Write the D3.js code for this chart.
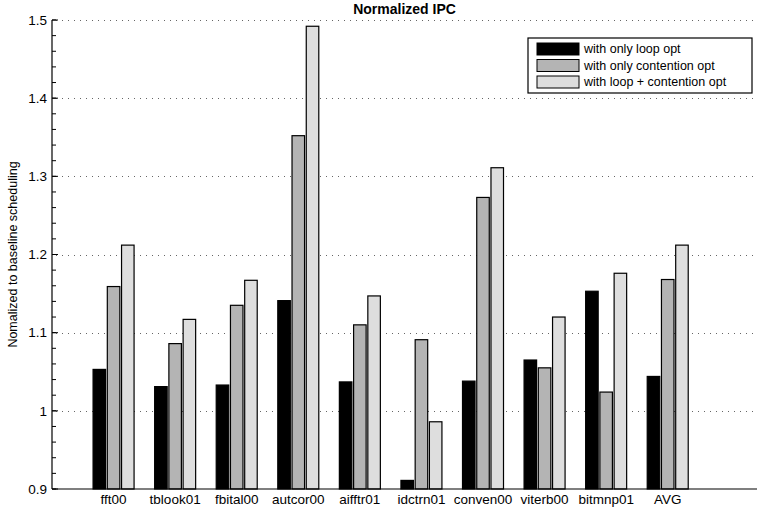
<!DOCTYPE html>
<html>
<head>
<meta charset="utf-8">
<script src="https://cdn.jsdelivr.net/npm/d3@7"></script>
<style>
  body { margin: 0; background: #fff; }
  svg { font-family: "Liberation Sans", Arial, Helvetica, sans-serif; }
</style>
</head>
<body>
<div id="chart"></div>
<script>
const benchmarks = ["fft00", "tblook01", "fbital00", "autcor00", "aifftr01",
  "idctrn01", "conven00", "viterb00", "bitmnp01", "AVG"];
const series_names = ["with only loop opt", "with only contention opt", "with loop + contention opt"];
const loop_opt = [1.053, 1.031, 1.033, 1.141, 1.037, 0.911, 1.038, 1.065, 1.153, 1.044];
const contention_opt = [1.159, 1.086, 1.135, 1.352, 1.110, 1.091, 1.273, 1.055, 1.024, 1.168];
const both_opt = [1.212, 1.117, 1.167, 1.492, 1.147, 0.986, 1.311, 1.120, 1.176, 1.212];
const y_ticks = [0.9, 1, 1.1, 1.2, 1.3, 1.4, 1.5];
const y_grid = [1, 1.1, 1.2, 1.3, 1.4, 1.5];
const y_minor = d3.range(0.9, 1.5001, 0.02);

const width = 763, height = 510;
const margin = {left: 52, top: 20, right: 6, bottom: 21};
const fills = ["#000000", "#b4b4b4", "#dedede"];

const svg = d3.select("#chart").append("svg")
  .attr("width", width)
  .attr("height", height);

const x = d3.scaleLinear()
  .domain([0, 11.45])
  .range([margin.left, width - margin.right]);

const y = d3.scaleLinear()
  .domain([0.9, 1.5])
  .range([height - margin.bottom, margin.top]);

// offsets of the three bars inside a group
const sub = d3.scaleBand()
  .domain(d3.range(3))
  .range([-20.5, 20.5])
  .paddingInner(0.12);

const rows = benchmarks.map((b, i) => ({
  name: b,
  pos: i + 1,
  vals: [loop_opt[i], contention_opt[i], both_opt[i]]
}));

// grid
svg.append("g")
  .selectAll("line")
  .data(y_grid)
  .enter()
  .append("line")
  .attr("x1", margin.left + 4)
  .attr("x2", width - margin.right)
  .attr("y1", d => Math.round(y(d)) + 0.5)
  .attr("y2", d => Math.round(y(d)) + 0.5)
  .attr("stroke", "#666")
  .attr("stroke-width", 1)
  .attr("stroke-dasharray", "1 5");

// bars
const groups = svg.append("g")
  .selectAll("g")
  .data(rows)
  .enter()
  .append("g")
  .attr("transform", d => `translate(${x(d.pos)},0)`);

groups.selectAll("rect")
  .data(d => d.vals)
  .enter()
  .append("rect")
  .attr("x", (d, j) => sub(j))
  .attr("width", sub.bandwidth())
  .attr("y", d => y(d))
  .attr("height", d => y(0.9) - y(d))
  .attr("fill", (d, j) => fills[j])
  .attr("stroke", "#000")
  .attr("stroke-width", 1.2);

// axes
const yAxis = svg.append("g")
  .attr("transform", `translate(${margin.left},0)`);

yAxis.append("line")
  .attr("x1", 0).attr("x2", 0)
  .attr("y1", y(1.5)).attr("y2", y(0.9))
  .attr("stroke", "#000").attr("stroke-width", 1.2);

yAxis.selectAll(".minor")
  .data(y_minor)
  .enter()
  .append("line")
  .attr("class", "minor")
  .attr("x1", 0).attr("x2", 4)
  .attr("y1", d => y(d)).attr("y2", d => y(d))
  .attr("stroke", "#000");

yAxis.selectAll(".major")
  .data(y_ticks)
  .enter()
  .append("line")
  .attr("class", "major")
  .attr("x1", 0).attr("x2", 6)
  .attr("y1", d => y(d)).attr("y2", d => y(d))
  .attr("stroke", "#000");

yAxis.selectAll("text")
  .data(y_ticks)
  .enter()
  .append("text")
  .attr("x", -5)
  .attr("y", d => y(d))
  .attr("dy", "0.35em")
  .attr("text-anchor", "end")
  .attr("font-size", 13.5)
  .text(d => d3.format("")(d));

svg.append("line")
  .attr("x1", margin.left).attr("x2", width - margin.right)
  .attr("y1", y(0.9)).attr("y2", y(0.9))
  .attr("stroke", "#000").attr("stroke-width", 1.2);

svg.append("g")
  .selectAll("text")
  .data(rows)
  .enter()
  .append("text")
  .attr("x", d => x(d.pos))
  .attr("y", y(0.9) + 15)
  .attr("text-anchor", "middle")
  .attr("font-size", 13.5)
  .text(d => d.name);

// titles
svg.append("text")
  .attr("x", (margin.left + width - margin.right) / 2)
  .attr("y", 14)
  .attr("text-anchor", "middle")
  .attr("font-size", 14)
  .attr("font-weight", "bold")
  .text("Normalized IPC");

svg.append("text")
  .attr("transform", `translate(17,${y(1.2)}) rotate(-90)`)
  .attr("text-anchor", "middle")
  .attr("font-size", 12.5)
  .text("Nomalized to baseline scheduling");

// legend
const legend = svg.append("g")
  .attr("transform", "translate(528,38)");

legend.append("rect")
  .attr("width", 224)
  .attr("height", 55)
  .attr("fill", "#fff")
  .attr("stroke", "#000")
  .attr("stroke-width", 1.2);

const items = legend.selectAll(".item")
  .data(series_names)
  .enter()
  .append("g")
  .attr("class", "item")
  .attr("transform", (d, i) => `translate(9,${11 + i * 16.5})`);

items.append("rect")
  .attr("x", 0).attr("y", -6)
  .attr("width", 42).attr("height", 12)
  .attr("fill", (d, i) => fills[i])
  .attr("stroke", "#000");

items.append("text")
  .attr("x", 47)
  .attr("dy", "0.35em")
  .attr("font-size", 12.5)
  .text(d => d);
</script>
</body>
</html>
